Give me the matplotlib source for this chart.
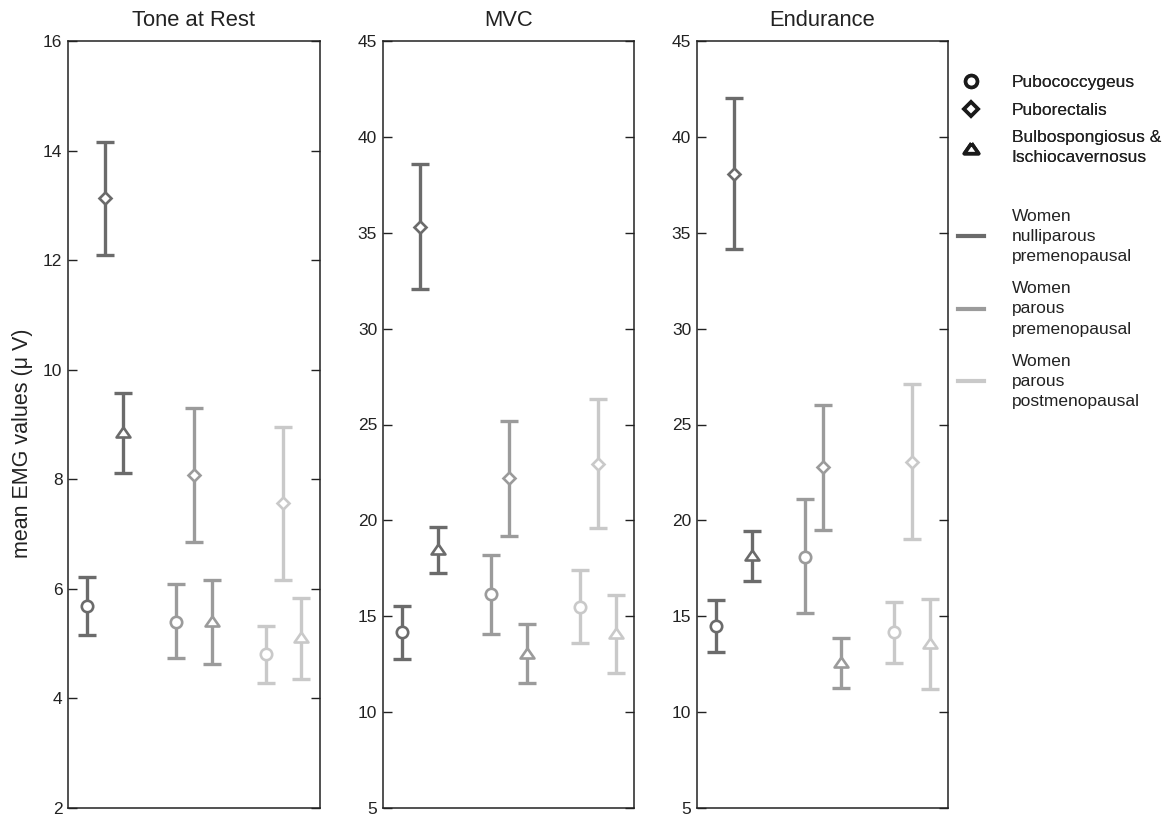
import matplotlib
matplotlib.use("Agg")
import matplotlib.pyplot as plt
from matplotlib.lines import Line2D

plt.rcParams['font.family'] = ['Liberation Sans', 'DejaVu Sans']

# groups of women and muscles
groups = ['Women\nnulliparous\npremenopausal',
          'Women\nparous\npremenopausal',
          'Women\nparous\npostmenopausal']
muscles = ['Pubococcygeus', 'Puborectalis', 'Bulbospongiosus &\nIschiocavernosus']
titles = ['Tone at Rest', 'MVC', 'Endurance']

# values per [group][muscle]
rest_mean = [[5.68, 13.13, 8.86], [5.40, 8.07, 5.42], [4.81, 7.56, 5.12]]
rest_low = [[5.15, 12.10, 8.11], [4.74, 6.85, 4.63], [4.29, 6.17, 4.35]]
rest_high = [[6.21, 14.16, 9.58], [6.08, 9.30, 6.16], [5.32, 8.96, 5.83]]

mvc_mean = [[14.16, 35.32, 18.52], [16.14, 22.19, 13.09], [15.50, 22.94, 14.11]]
mvc_low = [[12.79, 32.08, 17.27], [14.09, 19.20, 11.50], [13.59, 19.62, 12.02]]
mvc_high = [[15.53, 38.57, 19.67], [18.21, 25.18, 14.61], [17.43, 26.31, 16.09]]

end_mean = [[14.49, 38.08, 18.18], [18.11, 22.77, 12.61], [14.18, 23.06, 13.62]]
end_low = [[13.14, 34.17, 16.82], [15.15, 19.51, 11.27], [12.58, 19.04, 11.22]]
end_high = [[15.85, 42.01, 19.43], [21.10, 26.03, 13.85], [15.76, 27.10, 15.90]]

ylims = [(2, 16), (5, 45), (5, 45)]
yticks = [[2, 4, 6, 8, 10, 12, 14, 16], [5, 10, 15, 20, 25, 30, 35, 40, 45],
          [5, 10, 15, 20, 25, 30, 35, 40, 45]]

colors = ['#6b6b6b', '#9b9b9b', '#c9c9c9']
tri = [(0, 0.72), (-1, -0.72), (1, -0.72), (0, 0.72)]
markers = ['o', 'D', tri]
msizes = [8.2, 6.6, 10.0]
offsets = [-0.2, 0.0, 0.2]

panels = [(rest_mean, rest_low, rest_high),
          (mvc_mean, mvc_low, mvc_high),
          (end_mean, end_low, end_high)]

fig = plt.figure(figsize=(11.67, 8.16), dpi=100)
lefts = [68, 382.7, 696.7]
W, H = 1167, 816
axes = []
for i, (means, lows, highs) in enumerate(panels):
    ax = fig.add_axes([lefts[i] / W, 1 - 808 / H, 251.5 / W, 767 / H])
    axes.append(ax)
    for g in range(3):
        for m in range(3):
            mu = means[g][m]
            ax.errorbar(g + 1 + offsets[m], mu,
                        yerr=[[mu - lows[g][m]], [highs[g][m] - mu]],
                        fmt='none', ecolor=colors[g], elinewidth=2.4,
                        capsize=6.5, capthick=2.4, zorder=2)
            ax.plot(g + 1 + offsets[m], mu, linestyle='none', marker=markers[m],
                    ms=msizes[m], mfc='white', mec=colors[g], mew=1.9, zorder=3)
    ax.set_xlim(0.585, 3.405)
    ax.set_ylim(*ylims[i])
    ax.set_yticks(yticks[i])
    ax.set_xticks([])
    ax.tick_params(axis='y', direction='in', length=6.5, width=1, right=True,
                   labelsize=12.5, colors='#222222', pad=4)
    for sp in ax.spines.values():
        sp.set_linewidth(1.1)
        sp.set_color('#222222')
    ax.set_title(titles[i], fontsize=15.8, pad=11, color='#222222')

axes[0].set_ylabel('mean EMG values (\u03bc V)', fontsize=15.5, color='#222222')
axes[0].yaxis.set_label_coords(-0.14, 0.476)

# legends at the right
mk_handles = [Line2D([], [], linestyle='none', marker=markers[m], ms=msizes[m] + 0.3,
                     mfc='white', mec='#1a1a1a', mew=2.6) for m in range(3)]
leg1 = fig.legend(mk_handles, muscles, loc='upper left',
                  bbox_to_anchor=(958 / W, 1 - 75 / H), frameon=False, fontsize=12.5,
                  handlelength=1.5, handletextpad=1.6, borderpad=0, borderaxespad=0,
                  labelspacing=0.72, labelcolor='#222222')
ln_handles = [Line2D([], [], color=colors[g], lw=3) for g in range(3)]
leg2 = fig.legend(ln_handles, groups, loc='upper left',
                  bbox_to_anchor=(958 / W, 1 - 209 / H), frameon=False, fontsize=12.5,
                  handlelength=1.5, handletextpad=1.6, borderpad=0, borderaxespad=0,
                  labelspacing=1.0, labelcolor='#222222')
for lg in (leg1, leg2):
    for t in lg.get_texts():
        t.set_linespacing(1.42)
fig.add_artist(leg1)

fig.savefig('out.png', dpi=100)
